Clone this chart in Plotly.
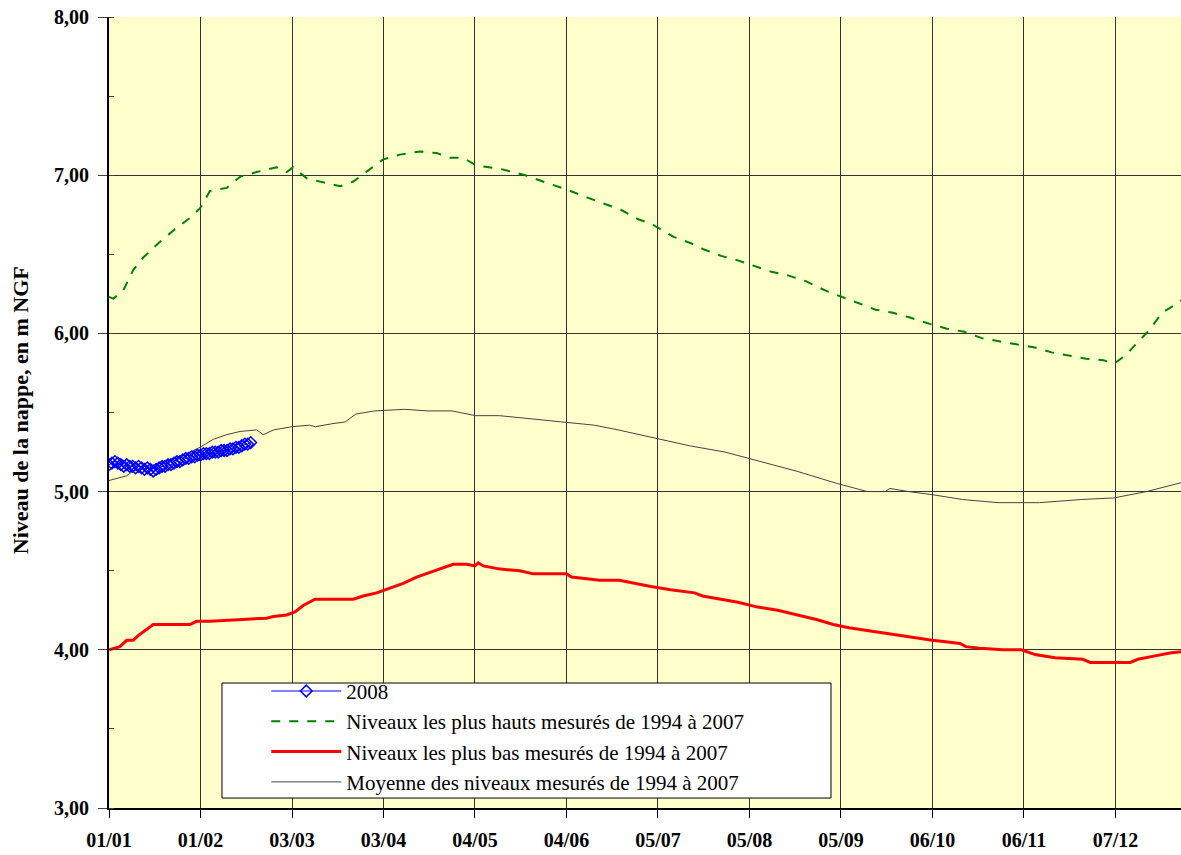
import plotly.graph_objects as go

# day of year (0 = 1 Jan) and groundwater level (m NGF)
tick_days = [0, 31, 62, 93, 124, 155, 186, 217, 248, 279, 310, 341]
tick_labels = ["01/01", "01/02", "03/03", "03/04", "04/05", "04/06",
               "05/07", "05/08", "05/09", "06/10", "06/11", "07/12"]

# 2008 daily readings
days_2008 = list(range(49))
level_2008 = [5.17, 5.18, 5.19, 5.18, 5.17, 5.16, 5.17, 5.16, 5.16, 5.15,
              5.16, 5.15, 5.14, 5.15, 5.14, 5.13, 5.14, 5.15, 5.16, 5.16,
              5.17, 5.17, 5.18, 5.19, 5.19, 5.20, 5.21, 5.21, 5.22, 5.22,
              5.23, 5.23, 5.24, 5.24, 5.24, 5.25, 5.25, 5.25, 5.26, 5.26,
              5.26, 5.27, 5.27, 5.28, 5.28, 5.29, 5.30, 5.30, 5.31]

# highest levels 1994-2007
high_days = [0, 1.5, 4.8, 8.2, 11.6, 16.7, 21.8, 27.4, 30.8, 34.2, 39.9, 44.4,
             50, 56.8, 60.2, 62.4, 67, 73.7, 78.3, 82.8, 87.3, 92.9, 98.6, 105.4,
             111, 115.5, 120, 124.6, 132.5, 141, 148.6, 155, 161.9, 167.7, 173.6,
             179.5, 184, 191.3, 197.2, 201.6, 207.4, 213.3, 217.8, 224.4, 229.5,
             236.1, 242.8, 248.6, 253.8, 259.7, 265.6, 271.4, 278.1, 283.9, 289.8,
             295.7, 301.6, 307.5, 314.1, 319.3, 325.1, 331, 336.9, 340.6, 344.3,
             348, 352.4, 356.8, 362, 364]
high_level = [6.23, 6.22, 6.27, 6.40, 6.48, 6.57, 6.65, 6.73, 6.79, 6.90, 6.92, 6.99,
              7.02, 7.05, 7.02, 7.05, 6.98, 6.95, 6.93, 6.96, 7.02, 7.10, 7.13, 7.15,
              7.14, 7.11, 7.11, 7.06, 7.04, 7.00, 6.95, 6.91, 6.86, 6.82, 6.78,
              6.72, 6.69, 6.61, 6.57, 6.53, 6.49, 6.46, 6.43, 6.39, 6.37,
              6.33, 6.27, 6.23, 6.19, 6.15, 6.13, 6.10, 6.06, 6.03, 6.01,
              5.97, 5.95, 5.93, 5.91, 5.88, 5.86, 5.84, 5.83, 5.81, 5.86,
              5.93, 6.02, 6.13, 6.19, 6.22]

# lowest levels 1994-2007
low_days = [0, 3.7, 6, 8.2, 9.9, 12.8, 15, 27.4, 29.7, 34.2, 42.1, 45.5, 53.4,
            55.7, 60.2, 63, 65.8, 69.8, 82.8, 86.1, 90.7, 95.2, 99.7, 104.2,
            108.7, 114.4, 116.6, 121.2, 124, 125.1, 126.8, 132.5, 139.2, 143.7,
            155, 156.7, 162.2, 166.2, 172.9, 178.3, 183.6, 190.3, 198.4, 201.1,
            207.8, 213.1, 219.8, 226.6, 233.3, 240, 245.4, 250.7, 257.4, 264.1,
            270.8, 278.9, 284.2, 288.3, 290.3, 295, 303, 309.1, 313.8, 320.5,
            329.9, 332.5, 346, 348.6, 354, 359.4, 364]
low_level = [4.00, 4.02, 4.06, 4.06, 4.09, 4.13, 4.16, 4.16, 4.18, 4.18, 4.19, 4.19, 4.20,
             4.21, 4.22, 4.24, 4.28, 4.32, 4.32, 4.34, 4.36, 4.39, 4.42, 4.46,
             4.49, 4.53, 4.54, 4.54, 4.53, 4.55, 4.53, 4.51, 4.50, 4.48,
             4.48, 4.46, 4.45, 4.44, 4.44, 4.42, 4.40, 4.38, 4.36, 4.34,
             4.32, 4.30, 4.27, 4.25, 4.22, 4.19, 4.16, 4.14, 4.12, 4.10,
             4.08, 4.06, 4.05, 4.04, 4.02, 4.01, 4.00, 4.00, 3.97, 3.95,
             3.94, 3.92, 3.92, 3.94, 3.96, 3.98, 3.99]

# mean levels 1994-2007
mean_days = [0, 3.7, 6, 8.2, 12.8, 17.3, 21.8, 26.3, 30.8, 35.3, 39.9, 44.4, 50,
             52.3, 55.8, 61.9, 67.9, 69.9, 75.9, 80, 83.6, 90, 100.1, 108.1, 116.2,
             124.2, 132.3, 142.3, 154.4, 164.4, 172.5, 184.6, 196.6, 208.7, 220.8,
             232.8, 246.9, 257, 263, 264.6, 271, 279.1, 289.2, 301.2, 315.3,
             329.4, 340.4, 351.5, 364]
mean_level = [5.07, 5.09, 5.10, 5.13, 5.15, 5.18, 5.21, 5.24, 5.28, 5.33, 5.36, 5.38, 5.39,
              5.36, 5.39, 5.41, 5.42, 5.41, 5.43, 5.44, 5.49, 5.51, 5.52, 5.51, 5.51,
              5.48, 5.48, 5.46, 5.44, 5.42, 5.39, 5.34, 5.29, 5.25, 5.19,
              5.13, 5.05, 5.00, 5.00, 5.02, 5.00, 4.98, 4.95, 4.93, 4.93,
              4.95, 4.96, 5.00, 5.06]

serif = "Liberation Serif"

fig = go.Figure()

fig.add_trace(go.Scatter(x=mean_days, y=mean_level, mode="lines",
                         name="Moyenne des niveaux mesurés de 1994 à 2007",
                         line=dict(color="#444444", width=1), legendrank=4,
                         legendgroup="d"))
fig.add_trace(go.Scatter(x=low_days, y=low_level, mode="lines",
                         name="Niveaux les plus bas mesurés de 1994 à 2007",
                         line=dict(color="#ff0000", width=3), legendrank=3,
                         legendgroup="c"))
fig.add_trace(go.Scatter(x=high_days, y=high_level, mode="lines",
                         name="Niveaux les plus hauts mesurés de 1994 à 2007",
                         line=dict(color="#008000", width=2, dash="dash"), legendrank=2,
                         legendgroup="b"))
fig.add_trace(go.Scatter(x=days_2008, y=level_2008, mode="lines+markers", name="2008",
                         line=dict(color="#0000ff", width=1),
                         marker=dict(symbol="diamond-open", size=9, color="#0000ff",
                                     line=dict(width=1.5)),
                         legendrank=1, legendgroup="a"))

# legend frame
fig.add_shape(type="rect", xref="paper", yref="paper",
              x0=0.1054, x1=0.6735, y0=0.0126, y1=0.158,
              line=dict(color="black", width=1), fillcolor="white", layer="above")

# y axis title
fig.add_annotation(text="<b>Niveau de la nappe, en m NGF</b>", textangle=-90,
                   xref="paper", yref="paper", x=-0.083, y=0.503,
                   xanchor="center", yanchor="middle", showarrow=False,
                   font=dict(family=serif, size=22, color="black"))

fig.update_xaxes(range=[0, 363.2], tickvals=tick_days, ticktext=tick_labels,
                 showgrid=True, gridcolor="#333333", gridwidth=1,
                 showline=True, linecolor="black", linewidth=2,
                 ticks="outside", ticklen=8, tickcolor="black", ticklabelstandoff=5,
                 tickfont=dict(family=serif, size=20, color="black", weight="bold"),
                 zeroline=False)
fig.update_yaxes(range=[3, 8], dtick=1, tickformat=".2f",
                 showgrid=True, gridcolor="#333333", gridwidth=1,
                 showline=True, linecolor="black", linewidth=2,
                 ticks="outside", ticklen=9, tickcolor="#404040", ticklabelstandoff=5,
                 minor=dict(dtick=0.5, ticks="inside", ticklen=5, tickcolor="#404040",
                            showgrid=False),
                 tickfont=dict(family=serif, size=20, color="black", weight="bold"),
                 zeroline=False)

fig.update_layout(
    width=1181, height=855,
    margin=dict(l=109, r=0, t=17, b=47),
    plot_bgcolor="#ffffcc", paper_bgcolor="white",
    separators=", ",
    font=dict(family=serif, color="black"),
    showlegend=True,
    legend=dict(x=0.1467, y=0.1734, xanchor="left", yanchor="top",
                bgcolor="rgba(0,0,0,0)", borderwidth=0,
                traceorder="grouped", tracegroupgap=0, itemwidth=70,
                font=dict(family=serif, size=21, color="black")),
)

fig.write_html("out.html", config={"displayModeBar": False},
               post_script="document.body.style.margin='0';")
